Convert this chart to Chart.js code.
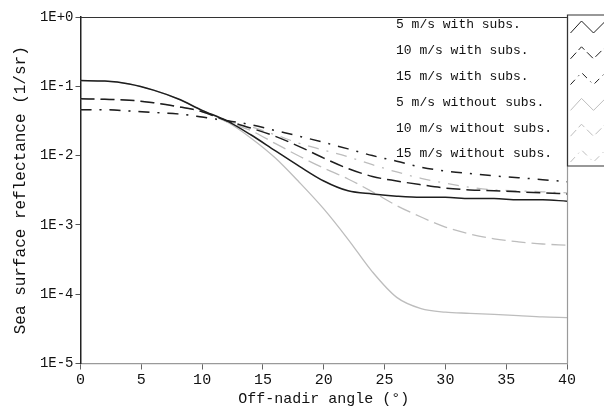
<!DOCTYPE html>
<html>
<head>
<meta charset="utf-8">
<script src="https://cdn.jsdelivr.net/npm/chart.js@4/dist/chart.umd.min.js"></script>
<style>
  html, body { margin: 0; padding: 0; background: #fff; }
  #wrap { width: 604px; height: 411px; }
</style>
</head>
<body>
<div id="wrap"><canvas id="c" width="604" height="411"></canvas></div>
<script>
// Off-nadir angle (degrees)
const angles = [0, 2, 4, 6, 8, 10, 12, 14, 16, 18, 20, 22, 24, 26, 28, 30, 32, 34, 36, 38, 40];

// Sea surface reflectance (1/sr), with substrate contribution
const with5 = [0.121, 0.119, 0.108, 0.088, 0.066, 0.045, 0.032, 0.020, 0.0118, 0.0070, 0.0043, 0.0031, 0.0028, 0.0026, 0.0025, 0.0025, 0.0024, 0.0024, 0.0023, 0.0023, 0.0022];
const with10 = [0.066, 0.065, 0.063, 0.058, 0.051, 0.043, 0.032, 0.025, 0.019, 0.0135, 0.0092, 0.0065, 0.0050, 0.0043, 0.0038, 0.0034, 0.0032, 0.0031, 0.0030, 0.0029, 0.0028];
const with15 = [0.046, 0.046, 0.044, 0.042, 0.040, 0.036, 0.032, 0.028, 0.023, 0.019, 0.0155, 0.0125, 0.0100, 0.0083, 0.0068, 0.0060, 0.0055, 0.0051, 0.0048, 0.0045, 0.0042];

// Sea surface reflectance (1/sr), without substrate contribution
const without5 = [0.121, 0.119, 0.108, 0.088, 0.066, 0.045, 0.031, 0.018, 0.0093, 0.0041, 0.0017, 0.00062, 0.00021, 0.000090, 0.000062, 0.000055, 0.000053, 0.000051, 0.000049, 0.000047, 0.000046];
const without10 = [0.066, 0.065, 0.063, 0.058, 0.051, 0.043, 0.031, 0.023, 0.015, 0.0098, 0.0066, 0.0046, 0.0030, 0.0019, 0.0013, 0.00093, 0.00074, 0.00063, 0.00057, 0.00053, 0.00051];
const without15 = [0.046, 0.046, 0.044, 0.042, 0.040, 0.036, 0.031, 0.026, 0.020, 0.015, 0.0120, 0.0096, 0.0074, 0.0058, 0.0047, 0.0040, 0.0035, 0.0032, 0.0031, 0.0030, 0.0029];

const seriesNames = ['5 m/s with subs.', '10 m/s with subs.', '15 m/s with subs.',
                     '5 m/s without subs.', '10 m/s without subs.', '15 m/s without subs.'];
const seriesValues = [with5, with10, with15, without5, without10, without15];

// Decade ticks of the reflectance axis
const yTickValues = [1, 1e-1, 1e-2, 1e-3, 1e-4, 1e-5];
const yTickLabels = ['1E+0', '1E-1', '1E-2', '1E-3', '1E-4', '1E-5'];
const xTickValues = [0, 5, 10, 15, 20, 25, 30, 35, 40];

const MONO = '"Liberation Mono", "DejaVu Sans Mono", monospace';
const BLACK = '#1e1e1e';
const GREY = '#bdbdbd';
const dashes = [[], [14, 6], [11, 8, 2, 8]];

const datasets = seriesValues.map((vals, i) => ({
  label: seriesNames[i],
  data: angles.map((a, k) => ({ x: a, y: vals[k] })),
  borderColor: i < 3 ? BLACK : GREY,
  borderWidth: i < 3 ? 1.5 : 1.3,
  borderDash: dashes[i % 3],
  pointRadius: 0,
  fill: false,
  cubicInterpolationMode: 'monotone'
}));

// Frame lines and the zig-zag legend drawn on top of the plot
const frameLegend = {
  id: 'frameLegend',
  afterDraw(chart) {
    const ctx = chart.ctx;
    const a = chart.chartArea;
    ctx.save();
    // top and right edges of the plot frame
    ctx.lineWidth = 1.2;
    ctx.strokeStyle = '#333';
    ctx.beginPath();
    ctx.moveTo(a.left, a.top + 0.5);
    ctx.lineTo(a.right, a.top + 0.5);
    ctx.stroke();
    ctx.strokeStyle = '#9a9a9a';
    ctx.beginPath();
    ctx.moveTo(a.right + 0.5, a.top);
    ctx.lineTo(a.right + 0.5, a.bottom);
    ctx.stroke();

    // legend entries
    const rowH = 25.8;
    const firstY = 25;
    ctx.font = '13px ' + MONO;
    ctx.fillStyle = '#111';
    ctx.textAlign = 'left';
    ctx.textBaseline = 'middle';
    seriesNames.forEach((name, i) => {
      ctx.fillText(name, 396, firstY + i * rowH);
    });

    // symbol box
    const bx = a.right + 0.5;
    const by = 15;
    const bh = 151;
    ctx.strokeStyle = '#333';
    ctx.lineWidth = 1.2;
    ctx.setLineDash([]);
    ctx.beginPath();
    ctx.moveTo(chart.width + 2, by);
    ctx.lineTo(bx, by);
    ctx.lineTo(bx, by + bh);
    ctx.lineTo(chart.width + 2, by + bh);
    ctx.stroke();

    datasets.forEach((ds, i) => {
      const yc = firstY + 2 + i * rowH;
      ctx.strokeStyle = ds.borderColor;
      ctx.lineWidth = 1;
      ctx.setLineDash(ds.borderDash.map(d => d * 0.6));
      ctx.beginPath();
      ctx.moveTo(bx + 3, yc + 6);
      ctx.lineTo(bx + 14, yc - 6);
      ctx.lineTo(bx + 26, yc + 6);
      ctx.lineTo(bx + 38, yc - 6);
      ctx.stroke();
    });
    ctx.restore();
  }
};

new Chart(document.getElementById('c'), {
  type: 'line',
  data: { datasets },
  plugins: [frameLegend],
  options: {
    responsive: false,
    animation: false,
    events: [],
    layout: { padding: { top: 17, right: 37, left: 0, bottom: 0 } },
    plugins: { legend: { display: false }, tooltip: { enabled: false } },
    scales: {
      x: {
        type: 'linear',
        min: 0,
        max: 40,
        afterFit(s) { s.height = 47.5; },
        afterBuildTicks(s) { s.ticks = xTickValues.map(v => ({ value: v })); },
        ticks: {
          color: '#111',
          font: { family: MONO, size: 15 },
          padding: 2,
          maxRotation: 0,
          callback: v => String(v)
        },
        grid: { drawOnChartArea: false, drawTicks: true, tickLength: 6, color: '#666', lineWidth: 1 },
        border: { display: true, color: '#9a9a9a', width: 1.2 },
        title: {
          display: true,
          text: 'Off-nadir angle (°)',
          color: '#111',
          font: { family: MONO, size: 15 },
          padding: { top: 0, bottom: 3 }
        }
      },
      y: {
        type: 'logarithmic',
        min: 1e-5,
        max: 1,
        afterFit(s) { s.width = 80.5; },
        afterBuildTicks(s) { s.ticks = yTickValues.map(v => ({ value: v })); },
        ticks: {
          color: '#111',
          font: { family: MONO, size: 14 },
          padding: 2,
          autoSkip: false,
          callback: (v) => {
            const k = yTickValues.findIndex(t => Math.abs(t - v) / t < 1e-6);
            return k >= 0 ? yTickLabels[k] : '';
          }
        },
        grid: { drawOnChartArea: false, drawTicks: true, tickLength: 5, color: '#555', lineWidth: 1 },
        border: { display: true, color: '#222', width: 1.5 },
        title: {
          display: true,
          text: 'Sea surface reflectance (1/sr)',
          color: '#111',
          font: { family: MONO, size: 16 },
          padding: { top: 11, bottom: 0 }
        }
      }
    }
  }
});
</script>
</body>
</html>
